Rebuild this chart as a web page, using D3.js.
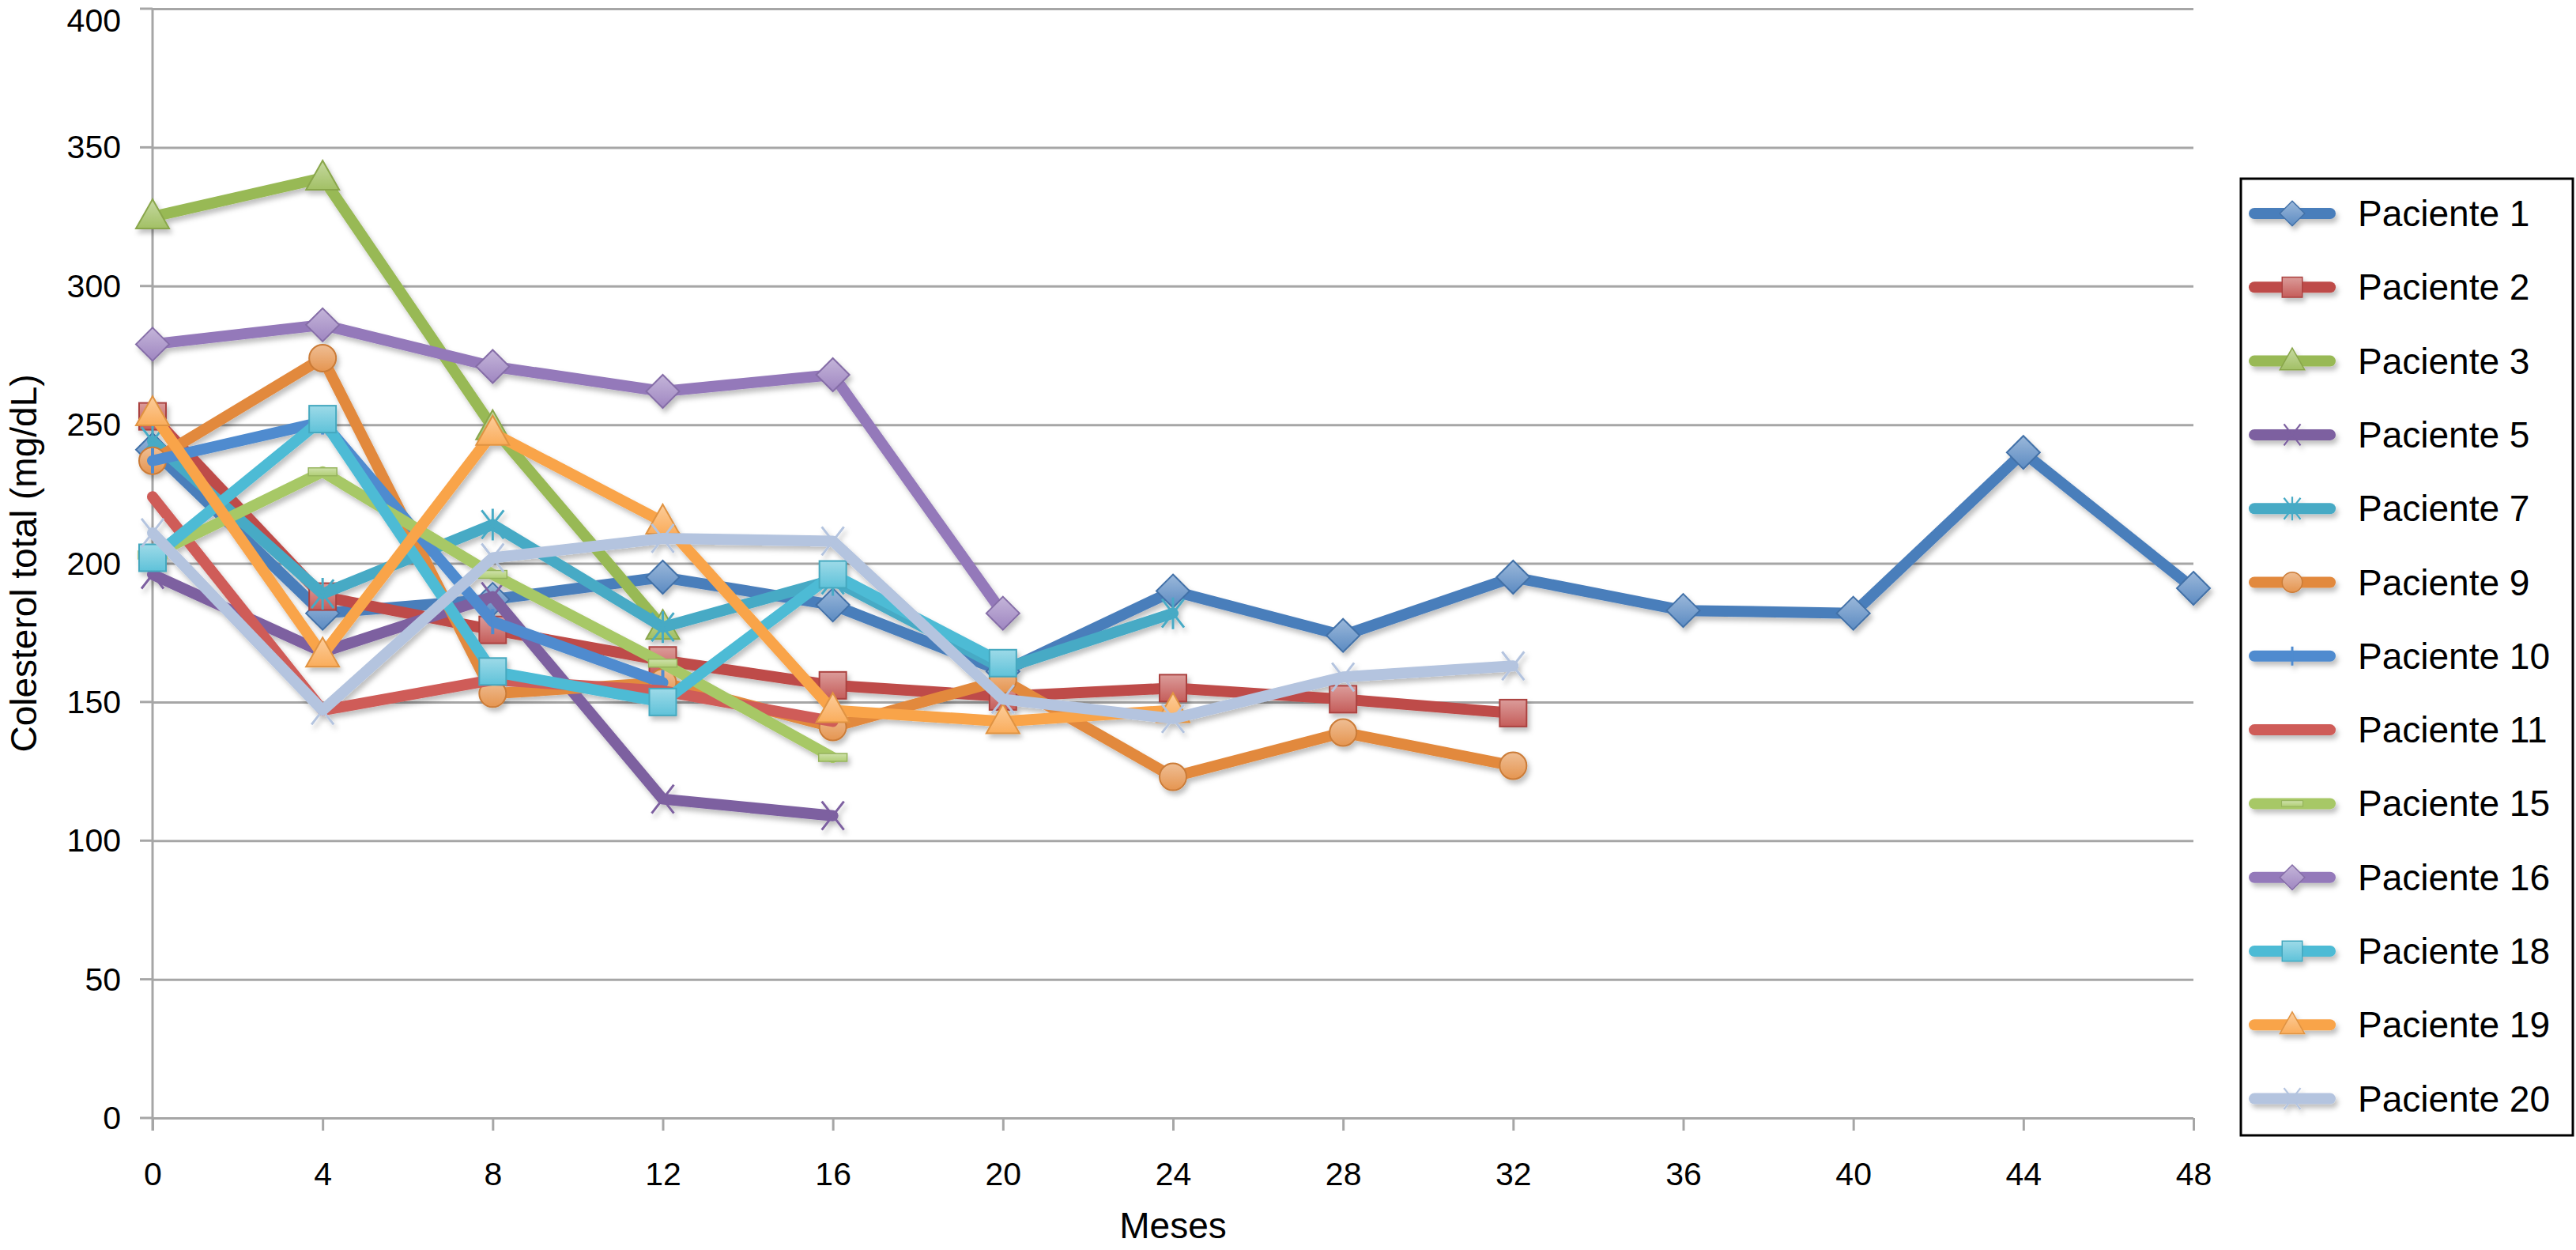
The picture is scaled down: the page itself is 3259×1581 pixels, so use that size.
<!DOCTYPE html>
<html>
<head>
<meta charset="utf-8">
<script src="https://cdn.jsdelivr.net/npm/d3@7"></script>
<style>
  body { margin: 0; background: #fff; }
  svg { display: block; font-family: "Liberation Sans", Arial, sans-serif; }
</style>
</head>
<body>
<svg id="chart" width="3259" height="1581"></svg>
<script>
// months on the x axis
const months = [0, 4, 8, 12, 16, 20, 24, 28, 32, 36, 40, 44, 48];
const yTicks = [0, 50, 100, 150, 200, 250, 300, 350, 400];

const patients = ["Paciente 1", "Paciente 2", "Paciente 3", "Paciente 5", "Paciente 7", "Paciente 9",
  "Paciente 10", "Paciente 11", "Paciente 15", "Paciente 16", "Paciente 18", "Paciente 19", "Paciente 20"];

// values read per patient, one per 4 months from month 0
const p1  = [241, 182, 187, 195, 185, 161, 190, 174, 195, 183, 182, 240, 191];
const p2  = [253, 188, 176, 165, 156, 152, 155, 151, 146];
const p3  = [325, 339, 249, 177];
const p5  = [196, 168, 188, 115, 109];
const p7  = [244, 189, 214, 177, 194, 162, 182];
const p9  = [237, 274, 153, 157, 141, 158, 123, 139, 127];
const p10 = [237, 251, 179, 157];
const p11 = [224, 147, 158, 154, 143];
const p15 = [203, 233, 196, 164, 130];
const p16 = [279, 286, 271, 262, 268, 182];
const p18 = [202, 252, 161, 150, 196, 164];
const p19 = [254, 167, 247, 215, 147, 143, 147];
const p20 = [211, 147, 202, 209, 208, 151, 144, 159, 163];

const values = [p1, p2, p3, p5, p7, p9, p10, p11, p15, p16, p18, p19, p20];
const colors = ["#4A7EBB", "#BE4B48", "#98B954", "#7D60A0", "#46AAC5", "#E2893D",
  "#4F8BCF", "#CF5C59", "#A7C866", "#9479BA", "#4DBBD5", "#F9A44A", "#B4C4DF"];
const markers = ["diamond", "square", "triangle", "x", "star", "circle",
  "plus", "none", "dash", "diamond", "square", "triangle", "x"];

const plotLeft = 193, plotRight = 2775, plotTop = 11, plotBottom = 1414;

const xScale = d3.scaleLinear().domain([0, 48]).range([plotLeft, plotRight]);
const yScale = d3.scaleLinear().domain([0, 400]).range([plotBottom, plotTop]);

const svg = d3.select('#chart');

const defs = svg.append('defs');
defs.append('filter')
  .attr('id', 'shadow')
  .attr('x', '-20%').attr('y', '-20%').attr('width', '140%').attr('height', '140%')
  .append('feDropShadow')
  .attr('dx', 3).attr('dy', 5).attr('stdDeviation', 3)
  .attr('flood-color', '#000').attr('flood-opacity', 0.25);

colors.forEach((c, i) => {
  const g = defs.append('linearGradient')
    .attr('id', 'grad' + i)
    .attr('x1', 0).attr('y1', 0).attr('x2', 0).attr('y2', 1);
  g.append('stop').attr('offset', '0%').attr('stop-color', d3.interpolateRgb(c, '#fff')(0.45));
  g.append('stop').attr('offset', '100%').attr('stop-color', d3.interpolateRgb(c, '#fff')(0.1));
});

// gridlines
svg.append('g')
  .attr('transform', `translate(${plotLeft},0)`)
  .call(d3.axisLeft(yScale).tickValues(yTicks).tickSize(-(plotRight - plotLeft)).tickFormat(''))
  .call(g => g.select('.domain').remove())
  .call(g => g.selectAll('.tick line').attr('stroke', '#A6A6A6').attr('stroke-width', 3));

svg.selectAll('.ytick-mark')
  .data(yTicks)
  .enter()
  .append('line')
  .attr('x1', plotLeft - 16).attr('x2', plotLeft)
  .attr('y1', d => yScale(d)).attr('y2', d => yScale(d))
  .attr('stroke', '#A6A6A6').attr('stroke-width', 3);

// y axis line
svg.append('line')
  .attr('x1', plotLeft).attr('x2', plotLeft)
  .attr('y1', plotTop).attr('y2', plotBottom + 16)
  .attr('stroke', '#A6A6A6').attr('stroke-width', 3);

// y labels
svg.append('g')
  .selectAll('text')
  .data(yTicks)
  .enter()
  .append('text')
  .attr('x', 153)
  .attr('y', d => Math.max(yScale(d) + 14, 40))
  .attr('text-anchor', 'end')
  .attr('font-size', 41)
  .text(d => d);

// x ticks + labels
svg.append('g')
  .attr('transform', `translate(0,${plotBottom})`)
  .call(d3.axisBottom(xScale).tickValues(months).tickSize(16).tickPadding(40))
  .call(g => g.select('.domain').remove())
  .call(g => g.selectAll('.tick line').attr('stroke', '#A6A6A6').attr('stroke-width', 3))
  .call(g => g.selectAll('.tick text')
    .attr('font-size', 41).attr('fill', '#000')
    .attr('font-family', '"Liberation Sans", Arial, sans-serif'));

svg.append('text')
  .attr('x', (plotLeft + plotRight) / 2)
  .attr('y', 1566)
  .attr('text-anchor', 'middle')
  .attr('font-size', 46)
  .text('Meses');

svg.append('text')
  .attr('transform', `translate(46,${(plotTop + plotBottom) / 2}) rotate(-90)`)
  .attr('text-anchor', 'middle')
  .attr('font-size', 46)
  .text('Colesterol total (mg/dL)');

// marker drawing
function drawMarker(sel, type, i) {
  const c = colors[i];
  const fill = `url(#grad${i})`;
  const edge = d3.color(c).darker(0.3);
  if (type === 'diamond') {
    sel.append('path').attr('d', 'M0,-21L21,0L0,21L-21,0Z')
      .attr('fill', fill).attr('stroke', edge).attr('stroke-width', 2);
  } else if (type === 'square') {
    sel.append('rect').attr('x', -17).attr('y', -17).attr('width', 34).attr('height', 34)
      .attr('fill', fill).attr('stroke', edge).attr('stroke-width', 2);
  } else if (type === 'triangle') {
    sel.append('path').attr('d', 'M0,-22L21,15L-21,15Z')
      .attr('fill', fill).attr('stroke', edge).attr('stroke-width', 2);
  } else if (type === 'circle') {
    sel.append('circle').attr('r', 17)
      .attr('fill', fill).attr('stroke', edge).attr('stroke-width', 2);
  } else if (type === 'x') {
    sel.append('path').attr('d', 'M-14,-18L14,18M14,-18L-14,18')
      .attr('stroke', c).attr('stroke-width', 3).attr('fill', 'none');
  } else if (type === 'star') {
    sel.append('path').attr('d', 'M-14,-18L14,18M14,-18L-14,18M0,-20L0,20')
      .attr('stroke', c).attr('stroke-width', 3).attr('fill', 'none');
  } else if (type === 'plus') {
    sel.append('path').attr('d', 'M0,-16L0,16')
      .attr('stroke', c).attr('stroke-width', 4).attr('fill', 'none');
  } else if (type === 'dash') {
    sel.append('rect').attr('x', -18).attr('y', -5).attr('width', 36).attr('height', 10)
      .attr('fill', fill).attr('stroke', edge).attr('stroke-width', 1.5);
  }
}

const line = d3.line()
  .x((d, j) => xScale(months[j]))
  .y(d => yScale(d));

const series = svg.append('g').attr('filter', 'url(#shadow)');

values.forEach((vals, i) => {
  const g = series.append('g');
  g.append('path')
    .datum(vals)
    .attr('d', line)
    .attr('fill', 'none')
    .attr('stroke', colors[i])
    .attr('stroke-width', 14)
    .attr('stroke-linejoin', 'round')
    .attr('stroke-linecap', 'round');
  g.selectAll('.mk')
    .data(vals)
    .enter()
    .append('g')
    .attr('transform', (d, j) => `translate(${xScale(months[j])},${yScale(d)})`)
    .each(function () { drawMarker(d3.select(this), markers[i], i); });
});

// legend
const lgX = 2835, lgY = 226, lgW = 420, lgH = 1210, step = 93.3, firstY = 270;
svg.append('rect')
  .attr('x', lgX).attr('y', lgY).attr('width', lgW).attr('height', lgH)
  .attr('fill', '#fff').attr('stroke', '#000').attr('stroke-width', 3);

const legend = svg.append('g').attr('filter', 'url(#shadow)');
patients.forEach((name, i) => {
  const y = firstY + i * step;
  const g = legend.append('g');
  g.append('line')
    .attr('x1', 2852).attr('x2', 2948).attr('y1', y).attr('y2', y)
    .attr('stroke', colors[i]).attr('stroke-width', 14).attr('stroke-linecap', 'round');
  const m = g.append('g').attr('transform', `translate(2900,${y}) scale(0.75)`);
  drawMarker(m, markers[i], i);
});
svg.append('g')
  .selectAll('text')
  .data(patients)
  .enter()
  .append('text')
  .attr('x', 2983)
  .attr('y', (d, i) => firstY + i * step + 16)
  .attr('font-size', 46)
  .text(d => d);
</script>
</body>
</html>
